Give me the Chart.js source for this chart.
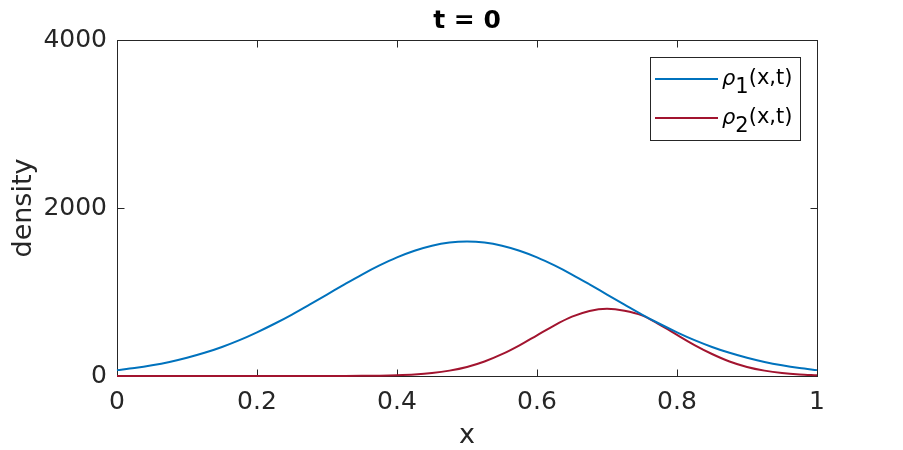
<!DOCTYPE html>
<html>
<head>
<meta charset="utf-8">
<script src="https://cdn.jsdelivr.net/npm/chart.js@4.4.0/dist/chart.umd.min.js"></script>
<style>
  html, body { margin: 0; padding: 0; background: #fff; }
  #wrap { width: 903px; height: 450px; }
</style>
</head>
<body>
<div id="wrap"><canvas id="chart" width="903" height="450"></canvas></div>
<script>
// sample positions along x
const xs = [0, 0.025, 0.05, 0.075, 0.1, 0.125, 0.15, 0.175, 0.2, 0.225, 0.25, 0.275, 0.3, 0.325, 0.35, 0.375,
    0.4, 0.425, 0.45, 0.475, 0.5, 0.525, 0.55, 0.575, 0.6, 0.625, 0.65, 0.675, 0.7, 0.725, 0.75, 0.775,
    0.8, 0.825, 0.85, 0.875, 0.9, 0.925, 0.95, 0.975, 1];
// rho_1
const rho1 = [70, 95, 127, 167, 217, 276, 346, 427, 520, 622, 732, 850, 970, 1091, 1208, 1316,
    1412, 1491, 1551, 1588, 1600, 1588, 1551, 1491, 1412, 1316, 1208, 1091, 970, 850, 732, 622,
    520, 427, 346, 276, 217, 167, 127, 95, 70];
// rho_2
const rho2 = [0, 0, 0, 0, 0, 0, 0, 0, 0, 0, 0, 0, 1, 1, 2, 4,
    9, 18, 35, 64, 108, 173, 260, 366, 485, 604, 706, 775, 800, 778, 722, 612,
    490, 368, 262, 173, 108, 64, 35, 18, 9];
const xTicks = [0, 0.2, 0.4, 0.6, 0.8, 1];
const yTicks = [0, 2000, 4000];
const seriesNames = ['1', '2'];
const seriesColors = ['#0072BD', '#A2142F'];

const axisColor = '#262626';
const fontFamily = '"DejaVu Sans", sans-serif';

function pts(vals) {
    return xs.map((x, i) => ({ x: x, y: vals[i] }));
}

// box, inner ticks, titles and legend in MATLAB style
const matlabAxes = {
    id: 'matlabAxes',
    beforeDatasetsDraw(chart) {
        const ctx = chart.ctx;
        const a = chart.chartArea;
        const sx = chart.scales.x, sy = chart.scales.y;
        const L = a.left + 0.5, R = a.right + 0.5, T = a.top + 0.5, B = a.bottom + 0.5;
        ctx.save();
        ctx.strokeStyle = axisColor;
        ctx.lineWidth = 1;
        ctx.strokeRect(L, T, R - L, B - T);
        ctx.beginPath();
        xTicks.forEach(v => {
            let px = Math.min(Math.round(sx.getPixelForValue(v)) + 0.5, R);
            ctx.moveTo(px, B); ctx.lineTo(px, B - 7);
            ctx.moveTo(px, T); ctx.lineTo(px, T + 7);
        });
        yTicks.forEach(v => {
            let py = Math.max(Math.round(sy.getPixelForValue(v)) + 0.5, T);
            ctx.moveTo(L, py); ctx.lineTo(L + 7, py);
            ctx.moveTo(R, py); ctx.lineTo(R - 7, py);
        });
        ctx.stroke();
        ctx.restore();
    },
    afterDraw(chart) {
        const ctx = chart.ctx;
        const a = chart.chartArea;
        ctx.save();
        ctx.fillStyle = '#000';
        ctx.textAlign = 'center';
        ctx.textBaseline = 'alphabetic';
        ctx.font = 'bold 25px ' + fontFamily;
        ctx.fillText('t = 0', (a.left + a.right) / 2, 28);

        ctx.fillStyle = axisColor;
        ctx.font = '27px ' + fontFamily;
        ctx.fillText('x', (a.left + a.right) / 2, 443);
        ctx.translate(31, (a.top + a.bottom) / 2);
        ctx.rotate(-Math.PI / 2);
        ctx.fillText('density', 0, 0);
        ctx.restore();

        // legend
        ctx.save();
        const lx = a.right - 167, ly = a.top + 17, lw = 150, lh = 83;
        ctx.fillStyle = '#fff';
        ctx.fillRect(lx, ly, lw, lh);
        ctx.strokeStyle = axisColor;
        ctx.lineWidth = 1;
        ctx.strokeRect(lx + 0.5, ly + 0.5, lw, lh);
        seriesNames.forEach((n, i) => {
            const yy = ly + 22 + i * 39;
            ctx.strokeStyle = seriesColors[i];
            ctx.lineWidth = 2;
            ctx.beginPath();
            ctx.moveTo(lx + 5, yy); ctx.lineTo(lx + 68, yy);
            ctx.stroke();
            ctx.fillStyle = '#000';
            ctx.textAlign = 'left';
            ctx.textBaseline = 'alphabetic';
            ctx.font = 'italic 21px ' + fontFamily;
            let tx = lx + 72;
            ctx.fillText('\u03c1', tx, yy + 6);
            tx += ctx.measureText('\u03c1').width;
            ctx.font = '21px ' + fontFamily;
            ctx.fillText(n, tx, yy + 14);
            tx += ctx.measureText(n).width;
            ctx.fillText('(x,t)', tx, yy + 5);
        });
        ctx.restore();
    }
};

new Chart(document.getElementById('chart'), {
    type: 'line',
    data: {
        datasets: [
            { label: 'rho1', data: pts(rho1), borderColor: seriesColors[0], borderWidth: 2, pointRadius: 0, cubicInterpolationMode: 'monotone', clip: 3 },
            { label: 'rho2', data: pts(rho2), borderColor: seriesColors[1], borderWidth: 2, pointRadius: 0, cubicInterpolationMode: 'monotone', clip: 3 }
        ]
    },
    options: {
        responsive: false,
        animation: false,
        layout: { padding: { left: 0, right: 86, top: 40, bottom: 0 } },
        plugins: { legend: { display: false }, tooltip: { enabled: false }, title: { display: false } },
        scales: {
            x: {
                type: 'linear', min: 0, max: 1,
                afterFit: s => { s.height = 74; },
                afterBuildTicks: s => { s.ticks = xTicks.map(v => ({ value: v })); },
                grid: { display: false },
                border: { display: false },
                ticks: { color: axisColor, font: { family: fontFamily, size: 25 }, padding: 3, maxRotation: 0,
                    callback: v => String(v) }
            },
            y: {
                type: 'linear', min: 0, max: 4000,
                afterFit: s => { s.width = 117; },
                afterBuildTicks: s => { s.ticks = yTicks.map(v => ({ value: v })); },
                grid: { display: false },
                border: { display: false },
                ticks: { color: axisColor, font: { family: fontFamily, size: 25 }, padding: 2,
                    callback: v => String(v) }
            }
        }
    },
    plugins: [matlabAxes]
});
</script>
</body>
</html>
